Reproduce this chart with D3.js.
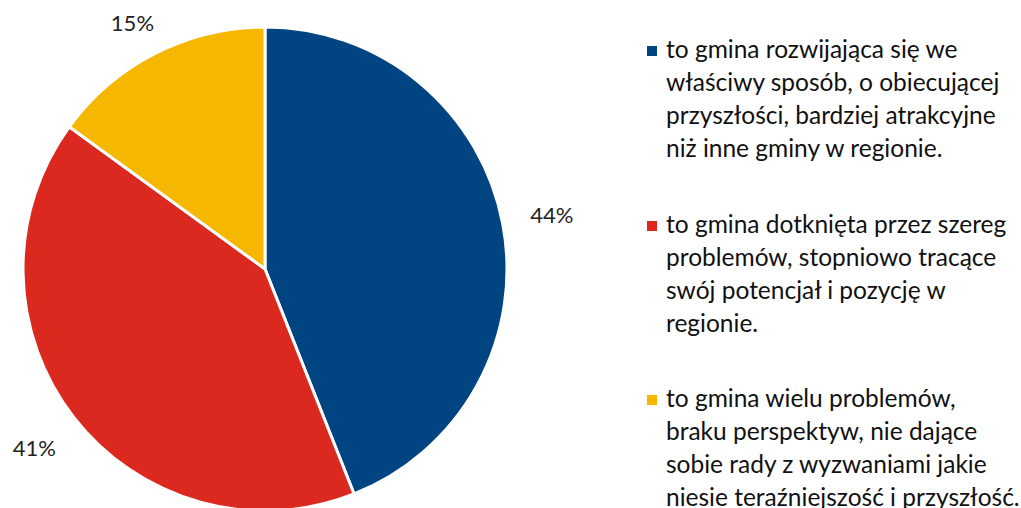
<!DOCTYPE html>
<html><head><meta charset="utf-8">
<script src="https://cdn.jsdelivr.net/npm/d3@7"></script>
<style>body{margin:0;background:#fff}svg{display:block}</style>
</head><body>
<script>
const categories = [
  "to gmina rozwijająca się we właściwy sposób, o obiecującej przyszłości, bardziej atrakcyjne niż inne gminy w regionie.",
  "to gmina dotknięta przez szereg problemów, stopniowo tracące swój potencjał i pozycję w regionie.",
  "to gmina wielu problemów, braku perspektyw, nie dające sobie rady z wyzwaniami jakie niesie teraźniejszość i przyszłość."
];
const legendLines = [
  ["to gmina rozwijająca się we", "właściwy sposób, o obiecującej", "przyszłości, bardziej atrakcyjne", "niż inne gminy w regionie."],
  ["to gmina dotknięta przez szereg", "problemów, stopniowo tracące", "swój potencjał i pozycję w", "regionie."],
  ["to gmina wielu problemów,", "braku perspektyw, nie dające", "sobie rady z wyzwaniami jakie", "niesie teraźniejszość i przyszłość."]
];
const values = [44, 41, 15];
const labels = ["44%", "41%", "15%"];
const colors = ["#004582", "#DC2920", "#F5B700"];

const W = 1021, H = 508;
const svg = d3.select("body").append("svg").attr("width", W).attr("height", H);
const cx = 265, cy = 269, R = 242;
const font = "Lato, 'Open Sans', sans-serif";

const pie = d3.pie().sort(null).value(d => d)(values);
const arc = d3.arc().innerRadius(0).outerRadius(R);
const g = svg.append("g").attr("transform", `translate(${cx},${cy})`);
g.selectAll("path").data(pie).join("path")
  .attr("d", arc)
  .attr("fill", (d, i) => colors[i])
  .attr("stroke", "#fff").attr("stroke-width", 3).attr("stroke-linejoin", "round");

const labelArc = d3.arc().innerRadius(292).outerRadius(292);
g.selectAll("text.lbl").data(pie).join("text")
  .attr("class", "lbl")
  .attr("x", d => labelArc.centroid(d)[0])
  .attr("y", d => Math.max(labelArc.centroid(d)[1], -cy + 22))
  .attr("text-anchor", "middle").attr("dominant-baseline", "central")
  .attr("font-family", font).attr("font-size", 22).attr("fill", "#222")
  .text((d, i) => labels[i]);

const lx = 647, tx = 666, firstBase = [58, 233, 407], lh = 33;
const leg = svg.append("g");
legendLines.forEach((lines, i) => {
  leg.append("rect").attr("x", lx).attr("y", firstBase[i] - 12).attr("width", 10).attr("height", 10).attr("fill", colors[i]);
  const t = leg.append("text").attr("font-family", font).attr("font-size", 24.5).attr("fill", "#111");
  lines.forEach((ln, j) => {
    t.append("tspan").attr("x", tx).attr("y", firstBase[i] + j * lh).text(ln);
  });
});
</script>
</body></html>
